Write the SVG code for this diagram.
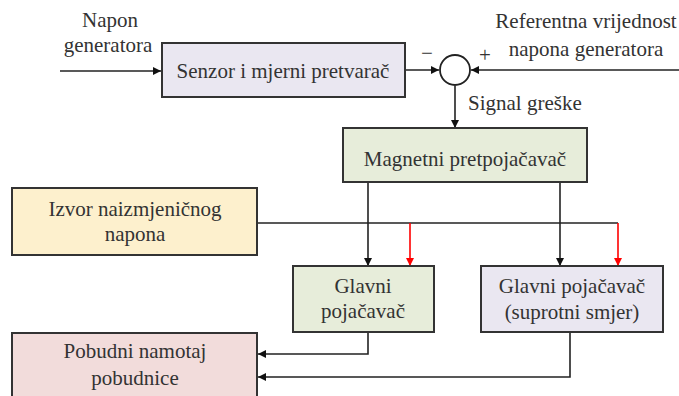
<svg xmlns="http://www.w3.org/2000/svg" width="679" height="396" viewBox="0 0 679 396">
<defs>
<style>
text{font-family:'Liberation Serif',serif;font-size:21px;fill:#333;text-anchor:middle}
.box{stroke:#333;stroke-width:2}
.ln{fill:none;stroke:#222;stroke-width:1.6}
.rd{fill:none;stroke:#ff0000;stroke-width:1.6}
</style>
<marker id="ah" viewBox="0 0 10 10" refX="10" refY="5" markerWidth="8" markerHeight="8" markerUnits="userSpaceOnUse" orient="auto"><path d="M0,0 L10,5 L0,10 z" fill="#111"/></marker>
<marker id="ahr" viewBox="0 0 10 10" refX="10" refY="5" markerWidth="8" markerHeight="8" markerUnits="userSpaceOnUse" orient="auto"><path d="M0,0 L10,5 L0,10 z" fill="#ff0000"/></marker>
</defs>
<rect width="679" height="396" fill="#fff"/>
<g id="labels" font-family="Liberation Serif, serif">
<text x="110" y="27">Napon</text>
<text x="108" y="52">generatora</text>
<text x="586" y="28">Referentna vrijednost</text>
<text x="586" y="56">napona generatora</text>
<text x="427" y="60">−</text>
<text x="485" y="62">+</text>
<text x="468" y="110" style="text-anchor:start">Signal greške</text>
</g>
<g id="connectors">
<path class="ln" d="M60,71 H161" marker-end="url(#ah)"/>
<path class="ln" d="M405,70 H439" marker-end="url(#ah)"/>
<path class="ln" d="M679,70 H471" marker-end="url(#ah)"/>
<path class="ln" d="M455,86 V128" marker-end="url(#ah)"/>
<path class="ln" d="M368,183 V266" marker-end="url(#ah)"/>
<path class="ln" d="M560,183 V266" marker-end="url(#ah)"/>
<path class="ln" d="M257,223 H618"/>
<path class="rd" d="M410,223 V266" marker-end="url(#ahr)"/>
<path class="rd" d="M618,223 V266" marker-end="url(#ahr)"/>
<path class="ln" d="M368,332 V354 H258" marker-end="url(#ah)"/>
<path class="ln" d="M570,332 V377 H258" marker-end="url(#ah)"/>
</g>
<g id="senzor">
<rect class="box" x="162" y="43" width="243" height="54" fill="#EAE7F1"/>
<text x="283" y="78">Senzor i mjerni pretvarač</text>
</g>
<g id="sum">
<circle cx="455" cy="70" r="15" fill="#fff" stroke="#222" stroke-width="1.8"/>
</g>
<g id="magnetni">
<rect class="box" x="343" y="128" width="244" height="54" fill="#E7EDDA"/>
<text x="465" y="166">Magnetni pretpojačavač</text>
</g>
<g id="izvor">
<rect class="box" x="12" y="188" width="245" height="67" fill="#FDF0CD"/>
<text x="135" y="216">Izvor naizmjeničnog</text>
<text x="135" y="241">napona</text>
</g>
<g id="glavni">
<rect class="box" x="293" y="266" width="141" height="66" fill="#E7EDDA"/>
<text x="363" y="293">Glavni</text>
<text x="363" y="318">pojačavač</text>
</g>
<g id="glavni-suprotni">
<rect class="box" x="481" y="266" width="182" height="66" fill="#EAE7F1"/>
<text x="572" y="293">Glavni pojačavač</text>
<text x="572" y="319">(suprotni smjer)</text>
</g>
<g id="pobudni">
<rect class="box" x="12" y="333" width="245" height="70" fill="#F2DCDB"/>
<text x="135" y="358">Pobudni namotaj</text>
<text x="135" y="385">pobudnice</text>
</g>
</svg>
